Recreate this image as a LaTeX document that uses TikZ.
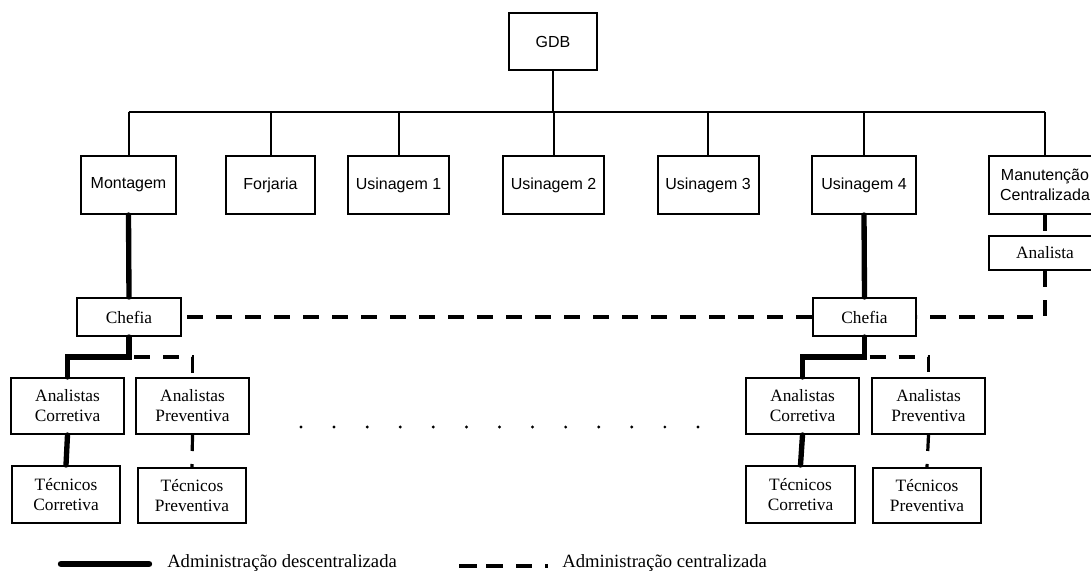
\documentclass[tikz,border=0pt]{standalone}
\usepackage{fontspec}
\setmainfont{Liberation Serif}
\newfontfamily\arialf{Liberation Sans}
\begin{document}
\begin{tikzpicture}[x=0.75pt,y=-0.75pt,
  wh/.style 2 args={minimum width=#1*0.75pt, minimum height=#2*0.75pt},
  topbox/.style={draw, line width=1.5pt, inner sep=0pt, align=center,
    font=\arialf\fontsize{12}{15}\selectfont},
  lowbox/.style={draw, line width=1.5pt, inner sep=0pt, align=center,
    font=\fontsize{13}{15}\selectfont},
  tree/.style={line width=1.5pt},
  decent/.style={line width=4pt, line cap=round},
  cent/.style={line width=2.4pt, dash pattern=on 12pt off 9.75pt},
  legendtext/.style={anchor=west, inner sep=0pt, font=\fontsize{14}{16}\selectfont}]

% page
\fill[white] (0,0) rectangle (1091,571);
\useasboundingbox (0,0) rectangle (1091,571);

% top of the organisation
\node[topbox, wh={88}{57}] (gdb) at (553,41.5) {GDB};

% departments
\node[topbox, wh={95}{58}]  (mont)  at (128.5,185) {Montagem};
\node[topbox, wh={89}{58}]  (forj)  at (270.5,185) {Forjaria};
\node[topbox, wh={101}{58}] (us1)   at (398.5,185) {Usinagem 1};
\node[topbox, wh={101}{58}] (us2)   at (553.5,185) {Usinagem 2};
\node[topbox, wh={101}{58}] (us3)   at (708,185)   {Usinagem 3};
\node[topbox, wh={104}{58}] (us4)   at (864,185)   {Usinagem 4};
\node[topbox, wh={112}{58}] (manut) at (1045,185)  {Manutenção\\Centralizada};
\node[lowbox, wh={112}{34}] (anal)  at (1045,253)  {Analista};

% maintenance staff under Montagem
\node[lowbox, wh={104}{38}]  (chefA) at (129,317)     {Chefia};
\node[lowbox, wh={113}{56}]  (acA)   at (67.5,406)    {Analistas\\Corretiva};
\node[lowbox, wh={113}{56}]  (apA)   at (192.5,406)   {Analistas\\Preventiva};
\node[lowbox, wh={108}{57}]  (tcA)   at (66,494.5)    {Técnicos\\Corretiva};
\node[lowbox, wh={108}{55}]  (tpA)   at (192,495.5)   {Técnicos\\Preventiva};

% maintenance staff under Usinagem 4
\node[lowbox, wh={103}{38}]  (chefB) at (864.5,317)   {Chefia};
\node[lowbox, wh={113}{56}]  (acB)   at (802.5,406)   {Analistas\\Corretiva};
\node[lowbox, wh={113}{56}]  (apB)   at (928.5,406)   {Analistas\\Preventiva};
\node[lowbox, wh={109}{57}]  (tcB)   at (800.5,494.5) {Técnicos\\Corretiva};
\node[lowbox, wh={108}{55}]  (tpB)   at (927,495.5)   {Técnicos\\Preventiva};

% hierarchy bus
\coordinate (bus) at (0,112);
\draw[tree] (gdb.south) -- (gdb.south |- bus);
\draw[tree] (mont.north |- bus) -- (manut.north |- bus);
\foreach \n in {mont,forj,us1,us2,us3,us4,manut}
  \draw[tree] (\n.north) -- (\n.north |- bus);

% decentralised administration
\draw[decent] (mont.south) -- (chefA.north);
\draw[decent] (chefA.south) -- ++(0,20) -| (acA.north);
\draw[decent] (acA.south) -- (tcA.north);
\draw[decent] (us4.south) -- (chefB.north);
\draw[decent] (chefB.south) -- ++(0,20) -| (acB.north);
\draw[decent] (acB.south) -- (tcB.north);

% centralised administration
\draw[cent, dash phase=18pt] (chefA.south) ++(0,20) -| (apA.north);
\draw[cent, dash phase=18pt] (chefB.south) ++(0,20) -| (apB.north);
\draw[cent] (apA.south) -- (tpA.north);
\draw[cent] (apB.south) -- (tpB.north);
\draw[cent, dash phase=-4pt] (chefA.east) -- (chefB.west);
\draw[cent] (manut.south) -- (anal.north);
\draw[cent] (anal.south) |- (chefB.east);

% other departments, not detailed
\foreach \i in {0,...,12}
  \fill (301+\i*33.08,427) circle (1.2pt);

% legend
\coordinate (lgA1) at (61,564);
\coordinate (lgA2) at (149,564);
\draw[line width=4.8pt, line cap=round] (lgA1) -- (lgA2);
\node[legendtext] (lgAt) at (167,563) {Administração descentralizada};
\coordinate (lgB1) at (459,566);
\coordinate (lgB2) at (548,566);
\draw[line width=3.2pt, dash pattern=on 13.5pt off 6.75pt on 12.75pt off 9.75pt on 12pt off 9.75pt on 2.25pt off 60pt] (lgB1) -- (lgB2);
\node[legendtext] (lgBt) at (562,563) {Administração centralizada};
\end{tikzpicture}
\end{document}
